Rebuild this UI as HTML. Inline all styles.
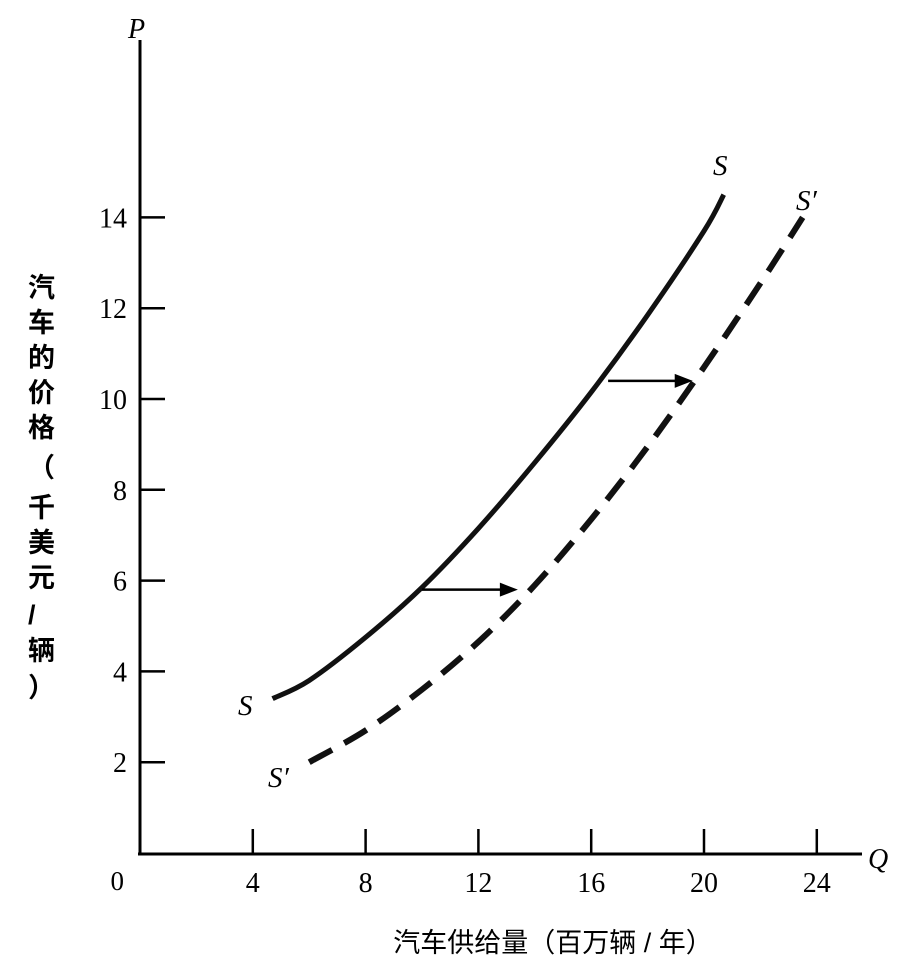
<!DOCTYPE html>
<html><head><meta charset="utf-8"><style>
html,body{margin:0;padding:0;background:#fff;}
svg{display:block;}
</style></head><body>
<svg width="907" height="967" viewBox="0 0 907 967" xmlns="http://www.w3.org/2000/svg">
<g id="axes"></g>
<g id="curves"></g>
<text x="128" y="38" font-family="Liberation Serif, serif" font-style="italic" font-size="28">P</text>
<text x="868" y="868" font-family="Liberation Serif, serif" font-style="italic" font-size="28">Q</text>
<text x="124" y="890" font-family="Liberation Serif, serif" font-size="27" text-anchor="end">0</text>
<g font-family="Liberation Serif, serif" font-style="italic" font-size="29">
<text x="238" y="715">S</text>
<text x="268" y="787">S′</text>
<text x="713" y="175">S</text>
<text x="796" y="210">S′</text>
</g>
<text font-family="Liberation Sans, 'Noto Sans CJK SC', sans-serif" font-size="27" font-weight="bold">
<tspan x="28" y="297">汽</tspan><tspan x="28" y="332">车</tspan><tspan x="28" y="367">的</tspan><tspan x="28" y="402">价</tspan><tspan x="28" y="437">格</tspan><tspan x="28" y="477">（</tspan><tspan x="28" y="517">千</tspan><tspan x="28" y="552">美</tspan><tspan x="28" y="587">元</tspan><tspan x="28" y="624">/</tspan><tspan x="28" y="660">辆</tspan><tspan x="28" y="697">）</tspan>
</text>
<text x="553" y="952" text-anchor="middle" font-family="Liberation Sans, 'Noto Sans CJK SC', sans-serif" font-size="27">汽车供给量（百万辆 / 年）</text>
</svg>
<script>
const xTicks=[4,8,12,16,20,24];
const yTicks=[2,4,6,8,10,12,14];
const sQ=[4.7,6,8,10,12,14,16,18,20,20.7];
const sP=[3.4,3.8,4.75,5.85,7.15,8.6,10.15,11.85,13.7,14.5];
const spQ=[6,8,10,12,14,16,18,20,22,23.5];
const spP=[2.0,2.7,3.6,4.65,5.9,7.35,8.95,10.7,12.55,14.0];
const arrowFromQ=[16.6,10.0];
const arrowToQ=[19.6,13.4];
const arrowP=[10.4,5.8];
const NS='http://www.w3.org/2000/svg';
const X=q=>140+28.2*q, Y=p=>853-45.4*p;
function mk(tag,attrs,parent){const e=document.createElementNS(NS,tag);for(const k in attrs)e.setAttribute(k,attrs[k]);parent.appendChild(e);return e;}
const ax=document.getElementById('axes'), cv=document.getElementById('curves');
let e=mk('line',{x1:140,y1:40,x2:140,y2:855,stroke:'#000','stroke-width':3},ax);


e=mk('line',{x1:138,y1:854,x2:862,y2:854,stroke:'#000','stroke-width':3},ax);


xTicks.forEach(t=>{
 let l=mk('line',{x1:X(t),y1:854,x2:X(t),y2:829,stroke:'#000','stroke-width':2.5},ax);
 
 
 let tx=mk('text',{x:X(t),y:892,'text-anchor':'middle','font-family':'Liberation Serif, serif','font-size':28},ax);
 tx.textContent=t;
 
 
});
yTicks.forEach(t=>{
 let l=mk('line',{x1:140,y1:Y(t),x2:165,y2:Y(t),stroke:'#000','stroke-width':2.5},ax);
 
 
 let tx=mk('text',{x:127,y:Y(t)+10,'text-anchor':'end','font-family':'Liberation Serif, serif','font-size':28},ax);
 tx.textContent=t;
 
 
});
function pathD(qs,ps){
 const pts=qs.map((q,i)=>[X(q),Y(ps[i])]);
 let d='M'+pts[0][0]+','+pts[0][1];
 for(let i=0;i<pts.length-1;i++){
  const p0=pts[i-1]||pts[i],p1=pts[i],p2=pts[i+1],p3=pts[i+2]||p2;
  d+=' C'+(p1[0]+(p2[0]-p0[0])/6)+','+(p1[1]+(p2[1]-p0[1])/6)+' '+(p2[0]-(p3[0]-p1[0])/6)+','+(p2[1]-(p3[1]-p1[1])/6)+' '+p2[0]+','+p2[1];
 }
 return d;
}
e=mk('path',{d:pathD(sQ,sP),fill:'none',stroke:'#111','stroke-width':5,'stroke-linecap':'butt'},cv);


e=mk('path',{d:pathD(spQ,spP),fill:'none',stroke:'#111','stroke-width':6,'stroke-dasharray':'26 14'},cv);


arrowP.forEach((p,i)=>{
 const x1=X(arrowFromQ[i]),x2=X(arrowToQ[i]),y=Y(p);
 let l=mk('line',{x1:x1,y1:y,x2:x2-14,y2:y,stroke:'#000','stroke-width':2.5},cv);
 
 
 let h=mk('polygon',{points:(x2)+','+y+' '+(x2-18)+','+(y-7)+' '+(x2-18)+','+(y+7),fill:'#000'},cv);
 
 
});
</script>
</body></html>
